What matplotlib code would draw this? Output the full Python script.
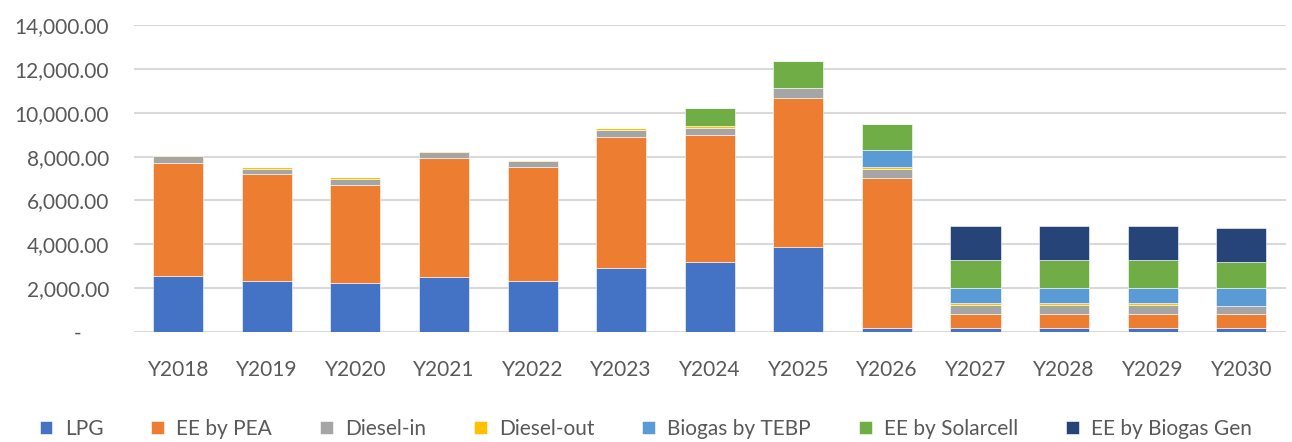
import numpy as np
import matplotlib.pyplot as plt

plt.rcParams.update({
    "font.family": ["Lato", "DejaVu Sans"],
    "font.size": 15,
})

years = ["Y2018", "Y2019", "Y2020", "Y2021", "Y2022", "Y2023", "Y2024",
         "Y2025", "Y2026", "Y2027", "Y2028", "Y2029", "Y2030"]

lpg        = [2570, 2340, 2220, 2490, 2340, 2900, 3180, 3860, 200, 200, 200, 200, 200]
ee_pea     = [5160, 4850, 4500, 5440, 5180, 6000, 5800, 6830, 6820, 620, 620, 620, 620]
diesel_in  = [280, 260, 260, 280, 260, 330, 310, 460, 410, 410, 410, 410, 380]
diesel_out = [70, 70, 70, 70, 90, 70, 90, 0, 80, 80, 80, 80, 0]
biogas     = [0, 0, 0, 0, 0, 0, 0, 0, 810, 710, 710, 710, 820]
solar      = [0, 0, 0, 0, 0, 0, 820, 1230, 1150, 1250, 1250, 1250, 1180]
biogas_gen = [0, 0, 0, 0, 0, 0, 0, 0, 0, 1560, 1560, 1560, 1560]

series = [
    ("LPG", lpg, "#4472C4"),
    ("EE by PEA", ee_pea, "#ED7D31"),
    ("Diesel-in", diesel_in, "#A5A5A5"),
    ("Diesel-out", diesel_out, "#FFC000"),
    ("Biogas by TEBP", biogas, "#5B9BD5"),
    ("EE by Solarcell", solar, "#70AD47"),
    ("EE by Biogas Gen", biogas_gen, "#264478"),
]

fig = plt.figure(figsize=(12.92, 4.42), dpi=100)
ax = fig.add_axes([0.1037, 0.249, 0.8913, 0.694])

x = np.arange(len(years))
bottom = np.zeros(len(years))
for name, vals, col in series:
    vals = np.asarray(vals, float)
    ax.bar(x, vals, 0.565, bottom=bottom, color=col, label=name,
           edgecolor="white", linewidth=0.4, zorder=3)
    bottom += vals

ax.set_xlim(-0.5, len(years) - 0.5)
ax.set_ylim(0, 14000)
ax.set_yticks(np.arange(0, 14001, 2000))
ax.set_yticklabels(["-     "] + [f"{v:,.2f}" for v in np.arange(2000, 14001, 2000)])
ax.set_xticks(x)
ax.set_xticklabels(years)
ax.grid(axis="y", color="#d9d9d9", linewidth=1.5, zorder=0)
for s in ax.spines.values():
    s.set_visible(False)
ax.tick_params(axis="both", length=0, colors="#595959", labelsize=15)
ax.tick_params(axis="x", pad=20)
ax.tick_params(axis="y", pad=18)

fig.legend(loc="lower center", bbox_to_anchor=(0.5, -0.035), ncol=7, frameon=False,
           handlelength=0.6, handleheight=0.6, handletextpad=0.6,
           columnspacing=2.3, fontsize=15, labelcolor="#595959")

fig.savefig("out.png", dpi=100)
